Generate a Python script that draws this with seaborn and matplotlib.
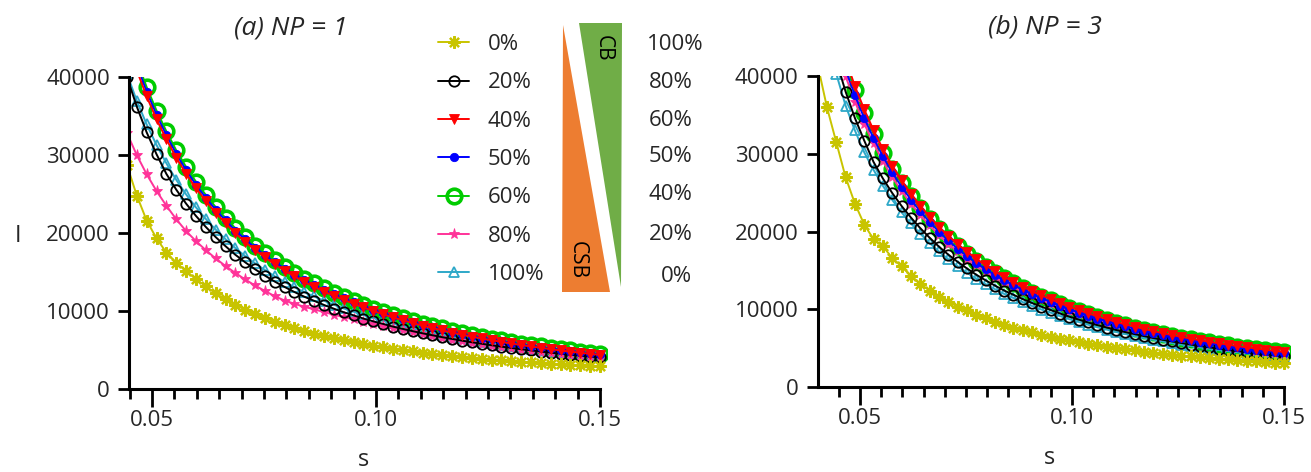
import matplotlib
matplotlib.use("Agg")
import matplotlib.pyplot as plt
import seaborn as sns
import pandas as pd
from matplotlib.ticker import MultipleLocator, FixedLocator, FuncFormatter
from matplotlib.patches import Polygon

# ---------------- data ----------------
S = [0.0400, 0.0422, 0.0444, 0.0466, 0.0488, 0.0510, 0.0532, 0.0554, 0.0576, 0.0598,
     0.0620, 0.0642, 0.0664, 0.0686, 0.0708, 0.0730, 0.0752, 0.0774, 0.0796, 0.0818,
     0.0840, 0.0862, 0.0884, 0.0906, 0.0928, 0.0950, 0.0972, 0.0994, 0.1016, 0.1038,
     0.1060, 0.1082, 0.1104, 0.1126, 0.1148, 0.1170, 0.1192, 0.1214, 0.1236, 0.1258,
     0.1280, 0.1302, 0.1324, 0.1346, 0.1368, 0.1390, 0.1412, 0.1434, 0.1456, 0.1478,
     0.1500]
S_A = S[2:]   # panel (a) starts at the third grid point

LABELS = ["0%", "20%", "40%", "50%", "60%", "80%", "100%"]

# panel (a): NP = 1
A_0 = [28700, 24800, 21600, 19300, 17500, 16200, 15100, 14100, 13150, 12250, 11500, 10800,
       10150, 9600, 9100, 8650, 8200, 7800, 7450, 7100, 6800, 6500, 6240, 6000, 5770, 5550,
       5350, 5160, 4980, 4810, 4650, 4500, 4360, 4230, 4100, 3980, 3870, 3760, 3660, 3570,
       3480, 3400, 3320, 3250, 3180, 3110, 3050, 2990, 2930]
A_20 = [40000, 36200, 32900, 30100, 27580, 25560, 23770, 22190, 20780, 19480, 18310, 17210,
        16240, 15350, 14540, 13770, 13080, 12430, 11830, 11300, 10770, 10290, 9840, 9440,
        9030, 8670, 8340, 8000, 7700, 7410, 7140, 6890, 6640, 6420, 6200, 5990, 5800, 5610,
        5430, 5270, 5100, 4950, 4800, 4660, 4530, 4400, 4280, 4160, 4050]
A_40 = [44700, 40840, 37510, 34590, 32010, 29660, 27590, 25760, 24110, 22610, 21240, 19980,
        18850, 17810, 16870, 15980, 15180, 14430, 13720, 13110, 12500, 11940, 11420, 10950,
        10450, 10000, 9580, 9180, 8810, 8460, 8120, 7810, 7520, 7240, 6970, 6720, 6480, 6260,
        6040, 5840, 5640, 5450, 5280, 5110, 4940, 4790, 4650, 4510, 4370]
A_50 = [45460, 41540, 38140, 35180, 32550, 30160, 28060, 26190, 24520, 22990, 21610, 20320,
        19170, 18120, 17160, 16250, 15440, 14670, 13960, 13340, 12710, 12140, 11620, 11140,
        10630, 10170, 9750, 9340, 8960, 8600, 8260, 7940, 7640, 7360, 7090, 6830, 6590, 6360,
        6140, 5940, 5740, 5540, 5370, 5200, 5030, 4880, 4730, 4580, 4450]
A_60 = [46120, 42150, 38700, 35700, 33030, 30600, 28470, 26580, 24880, 23330, 21920, 20610,
        19450, 18380, 17410, 16490, 15670, 14890, 14160, 13530, 12900, 12320, 11790, 11300,
        10790, 10320, 9890, 9480, 9090, 8730, 8380, 8060, 7760, 7470, 7190, 6930, 6690, 6460,
        6230, 6020, 5820, 5630, 5450, 5270, 5100, 4950, 4800, 4650, 4510]
A_80 = [32810, 29980, 27530, 25390, 23490, 21770, 20250, 18960, 17800, 16740, 15770, 14880,
        14040, 13270, 12570, 11900, 11340, 10930, 10540, 10210, 9870, 9530, 9210, 8920, 8610,
        8320, 8080, 7810, 7550, 7300, 7050, 6800, 6560, 6340, 6120, 5920, 5720, 5540, 5360,
        5200, 5040, 4890, 4740, 4600, 4470, 4350, 4230, 4110, 4000]
A_100 = [40420, 36930, 33920, 31280, 28940, 26820, 24950, 23290, 21800, 20440, 19210, 18060,
         17040, 16110, 15260, 14450, 13730, 13050, 12410, 11860, 11310, 10800, 10330, 9900,
         9480, 9100, 8760, 8400, 8080, 7780, 7490, 7230, 6970, 6730, 6500, 6290, 6080, 5890,
         5700, 5530, 5360, 5190, 5040, 4890, 4750, 4620, 4490, 4370, 4250]

# panel (b): NP = 3
B_0 = [41500, 36000, 31500, 27000, 23600, 20900, 19000, 18100, 16600, 15500, 14300, 13300,
       12400, 11600, 10950, 10350, 9850, 9300, 8850, 8420, 8000, 7650, 7330, 7030, 6750, 6480,
       6230, 6000, 5780, 5570, 5380, 5190, 5020, 4860, 4700, 4560, 4420, 4290, 4170, 4050,
       3940, 3830, 3730, 3630, 3540, 3450, 3370, 3290, 3210, 3140, 3070]
B_20 = [51000, 46500, 42000, 38000, 34600, 31700, 28940, 26820, 24950, 23290, 21800, 20440,
        19210, 18060, 17040, 16110, 15260, 14450, 13730, 13050, 12410, 11860, 11310, 10800,
        10330, 9900, 9450, 9040, 8670, 8300, 7960, 7650, 7340, 7060, 6800, 6550, 6300, 6070,
        5860, 5660, 5460, 5280, 5100, 4930, 4770, 4620, 4470, 4340, 4200, 4080, 3950]
B_40 = [55920, 50680, 46120, 42150, 38700, 35700, 33030, 30600, 28470, 26580, 24880, 23330,
        21920, 20610, 19450, 18380, 17410, 16490, 15670, 14890, 14160, 13530, 12900, 12320,
        11790, 11300, 10790, 10320, 9890, 9480, 9090, 8730, 8380, 8060, 7760, 7470, 7190,
        6930, 6690, 6460, 6230, 6020, 5820, 5630, 5450, 5270, 5100, 4950, 4800, 4650, 4510]
B_50 = [54190, 49120, 44700, 40840, 37510, 34590, 32010, 29660, 27590, 25760, 24110, 22610,
        21240, 19980, 18850, 17810, 16870, 15980, 15180, 14430, 13720, 13110, 12500, 11940,
        11420, 10950, 10450, 10000, 9580, 9180, 8810, 8460, 8120, 7810, 7520, 7240, 6970,
        6720, 6480, 6260, 6040, 5840, 5640, 5450, 5280, 5110, 4940, 4790, 4650, 4510, 4370]
B_60 = [55110, 49950, 45460, 41540, 38140, 35180, 32550, 30160, 28060, 26190, 24520, 22990,
        21610, 20320, 19170, 18120, 17160, 16250, 15440, 14670, 13960, 13340, 12710, 12140,
        11620, 11140, 10630, 10170, 9750, 9340, 8960, 8600, 8260, 7940, 7640, 7360, 7090,
        6830, 6590, 6360, 6140, 5940, 5740, 5540, 5370, 5200, 5030, 4880, 4730, 4580, 4450]
B_80 = [53040, 48070, 43750, 39970, 36710, 33860, 31330, 29030, 27000, 25210, 23600, 22130,
        20790, 19550, 18450, 17430, 16510, 15640, 14860, 14120, 13430, 12830, 12240, 11680,
        11180, 10720, 10230, 9790, 9380, 8990, 8620, 8280, 7950, 7650, 7360, 7080, 6820, 6570,
        6340, 6120, 5910, 5710, 5520, 5340, 5170, 5000, 4840, 4690, 4550, 4410, 4280]
B_100 = [49500, 44500, 40300, 36200, 33000, 30180, 27920, 25870, 24070, 22470, 21030, 19720,
         18530, 17430, 16440, 15540, 14720, 13940, 13240, 12590, 11970, 11440, 10910, 10410,
         9960, 9550, 9120, 8720, 8360, 8010, 7680, 7380, 7080, 6810, 6560, 6310, 6080, 5860,
         5650, 5460, 5270, 5090, 4920, 4760, 4600, 4460, 4310, 4180, 4050, 3930, 3810]

Y_TICKS = [0, 10000, 20000, 30000, 40000]
X_TICKS = [0.05, 0.10, 0.15]
RIGHT_LABELS = ["100%", "80%", "60%", "50%", "40%", "20%", "0%"]

# ---------------- styling ----------------
sns.set_style("white")
plt.rcParams['font.family'] = ['Open Sans', 'DejaVu Sans']
TXT = "#262626"
FS = 16

STYLE = {
    "0%":   dict(color="#C8C400", marker=(8, 2, 0), markersize=9, markeredgewidth=1.6,
                 markerfacecolor="#C8C400"),
    "20%":  dict(color="#000000", marker="o", markersize=7.5, markeredgewidth=1.3,
                 markerfacecolor="none"),
    "40%":  dict(color="#FF0000", marker="v", markersize=7, markeredgewidth=0.6,
                 markerfacecolor="#FF0000"),
    "50%":  dict(color="#0000FF", marker="o", markersize=6, markeredgewidth=0.6,
                 markerfacecolor="#0000FF"),
    "60%":  dict(color="#00CC00", marker="o", markersize=10.5, markeredgewidth=2.6,
                 markerfacecolor="none"),
    "80%":  dict(color="#FF3399", marker="*", markersize=8, markeredgewidth=0.6,
                 markerfacecolor="#FF3399"),
    "100%": dict(color="#2EA8C8", marker="^", markersize=7, markeredgewidth=1.3,
                 markerfacecolor="none"),
}
DRAW_ORDER = ["60%", "100%", "80%", "20%", "50%", "40%", "0%"]

W, H = 1311, 472
fig = plt.figure(figsize=(W / 100, H / 100), dpi=100)


def add_axes_px(x0, y_top, x1, y_bot):
    return fig.add_axes([x0 / W, 1 - y_bot / H, (x1 - x0) / W, (y_bot - y_top) / H])


def draw_panel(ax, xs, series, xmin):
    handles = {}
    for lab in DRAW_ORDER:
        st = STYLE[lab]
        df = pd.DataFrame({"s": xs, "I": series[lab]})
        sns.lineplot(data=df, x="s", y="I", ax=ax, color=st["color"], marker=st["marker"],
                     markersize=st["markersize"], markeredgewidth=st["markeredgewidth"],
                     markerfacecolor=st["markerfacecolor"], markeredgecolor=st["color"],
                     linewidth=1.4, label=lab, legend=False, errorbar=None)
        handles[lab] = ax.lines[-1]
    ax.set_xlim(xmin, 0.1515)
    ax.set_ylim(0, 40000)
    sns.despine(ax=ax)
    for sp in ("left", "bottom"):
        ax.spines[sp].set_linewidth(2.2)
        ax.spines[sp].set_color("black")
    ax.spines["bottom"].set_bounds(xmin, 0.15)
    ax.yaxis.set_major_locator(FixedLocator(Y_TICKS))
    ax.yaxis.set_major_formatter(FuncFormatter(lambda v, _: f"{int(v)}"))
    ax.xaxis.set_major_locator(FixedLocator(X_TICKS))
    ax.xaxis.set_minor_locator(MultipleLocator(0.005))
    ax.xaxis.set_major_formatter(FuncFormatter(lambda v, _: f"{v:.2f}"))
    ax.tick_params(axis="y", which="major", direction="out", length=8, width=2,
                   color="black", labelsize=FS, labelcolor=TXT, pad=6, left=True)
    ax.tick_params(axis="x", which="major", direction="out", length=13, width=2,
                   color="black", labelsize=FS, labelcolor=TXT, pad=2, bottom=True)
    ax.tick_params(axis="x", which="minor", direction="out", length=7, width=2,
                   color="black", bottom=True)
    ax.set_xlabel("s", fontsize=FS + 1, color=TXT)
    ax.set_ylabel("")
    ax.patch.set_alpha(0)
    return handles


# panel (a)
ax_a = add_axes_px(129.2, 77, 606.7, 389)
series_a = {"0%": A_0, "20%": A_20, "40%": A_40, "50%": A_50, "60%": A_60,
            "80%": A_80, "100%": A_100}
h_a = draw_panel(ax_a, S_A, series_a, 0.0449)
ax_a.set_ylabel("I", fontsize=FS + 1, color=TXT, rotation=0, va="center", ha="center")
ax_a.yaxis.set_label_coords(-0.232, 0.49)
ax_a.xaxis.set_label_coords(0.49, -0.19)

# panel (b)
ax_b = add_axes_px(818, 76, 1290.4, 387)
series_b = {"0%": B_0, "20%": B_20, "40%": B_40, "50%": B_50, "60%": B_60,
            "80%": B_80, "100%": B_100}
draw_panel(ax_b, S, series_b, 0.0401)
ax_b.xaxis.set_label_coords(0.49, -0.19)

# titles
fig.text(291 / W, 1 - 28 / H, "(a) NP = 1", fontsize=19, style="italic", color=TXT,
         ha="center", va="center")
fig.text(1045 / W, 1 - 27 / H, "(b) NP = 3", fontsize=19, style="italic", color=TXT,
         ha="center", va="center")

# legend (panel a)
ax_a.legend([h_a[l] for l in LABELS], LABELS, loc="upper left",
            bbox_to_anchor=(438 / W, 1 - 34 / H), bbox_transform=fig.transFigure,
            frameon=False, fontsize=FS, handlelength=1.4, handletextpad=0.85,
            labelspacing=0.78, borderpad=0, borderaxespad=0, labelcolor=TXT)

# CB / CSB composition wedges
def fpts(pts):
    return [(x / W, 1 - y / H) for x, y in pts]

fig.add_artist(Polygon(fpts([(563, 25), (562, 292), (610, 292)]), closed=True,
                       facecolor="#ED7D31", edgecolor="none", transform=fig.transFigure))
fig.add_artist(Polygon(fpts([(579, 23), (622, 23), (621, 287)]), closed=True,
                       facecolor="#70AD47", edgecolor="none", transform=fig.transFigure))
fig.text(603 / W, 1 - 48 / H, "CB", fontsize=15, rotation=-90, color="black",
         ha="center", va="center")
fig.text(577 / W, 1 - 260 / H, "CSB", fontsize=15, rotation=-90, color="black",
         ha="center", va="center")

ys = [45, 83, 120, 156, 195, 235, 277]
xs_r = [675, 670.5, 670.5, 670.5, 670.5, 670.5, 676]
for t, x, y in zip(RIGHT_LABELS, xs_r, ys):
    fig.text(x / W, 1 - y / H, t, fontsize=FS, color=TXT, ha="center", va="center")

fig.savefig("out.png", dpi=100)
